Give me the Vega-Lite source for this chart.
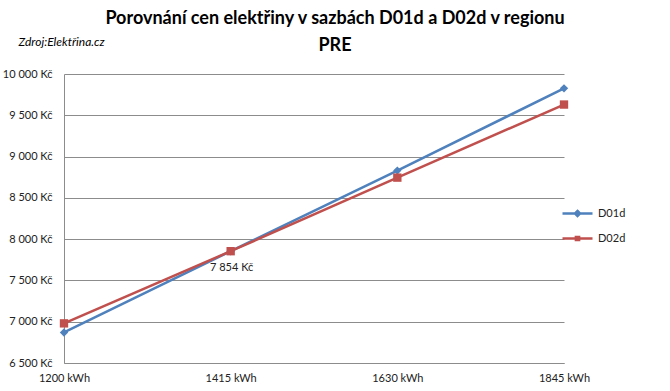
{
  "$schema": "https://vega.github.io/schema/vega-lite/v6.json",
  "width": 500,
  "height": 289,
  "autosize": {"type": "none"},
  "padding": {"left": 64, "top": 74, "right": 106, "bottom": 28},
  "background": "white",
  "config": {
    "font": "Lato",
    "view": {"stroke": null},
    "axis": {"labelFont": "Lato", "labelColor": "#222", "labelFontSize": 11, "ticks": false, "domainColor": "#8c8c8c", "gridColor": "#8c8c8c"}
  },
  "title": {
    "text": ["Porovnání cen elektřiny v sazbách D01d a D02d v regionu", "PRE"],
    "font": "Lato",
    "fontSize": 18,
    "fontWeight": "bold",
    "color": "#000",
    "lineHeight": 27,
    "anchor": "middle",
    "dx": 21,
    "dy": 24,
    "offset": 4
  },
  "data": {
    "values": [
      {"kwh": "1200 kWh", "series": "D01d", "price": 6870},
      {"kwh": "1415 kWh", "series": "D01d", "price": 7854},
      {"kwh": "1630 kWh", "series": "D01d", "price": 8830},
      {"kwh": "1845 kWh", "series": "D01d", "price": 9826},
      {"kwh": "1200 kWh", "series": "D02d", "price": 6980},
      {"kwh": "1415 kWh", "series": "D02d", "price": 7854},
      {"kwh": "1630 kWh", "series": "D02d", "price": 8745},
      {"kwh": "1845 kWh", "series": "D02d", "price": 9630}
    ]
  },
  "encoding": {
    "x": {
      "field": "kwh", "type": "nominal", "sort": null,
      "scale": {"type": "point", "padding": 0},
      "axis": {"title": null, "labelAngle": 0, "labelPadding": 9, "grid": false, "domain": true}
    },
    "y": {
      "field": "price", "type": "quantitative",
      "scale": {"domain": [6500, 10000], "nice": false, "zero": false},
      "axis": {
        "values": [6500, 7000, 7500, 8000, 8500, 9000, 9500, 10000],
        "labelExpr": "replace(format(datum.value, ','), ',', ' ') + ' Kč'",
        "labelPadding": 12,
        "grid": true,
        "domain": true,
        "title": "Zdroj:Elektřina.cz",
        "titleAngle": 0,
        "titleAlign": "left",
        "titleBaseline": "alphabetic",
        "titleX": -46,
        "titleY": -29,
        "titleFont": "Lato",
        "titleFontStyle": "italic",
        "titleFontWeight": "normal",
        "titleFontSize": 12,
        "titleColor": "#000"
      }
    }
  },
  "layer": [
    {
      "mark": {"type": "line", "strokeWidth": 2.5},
      "encoding": {
        "color": {
          "field": "series", "type": "nominal",
          "scale": {"domain": ["D01d", "D02d"], "range": ["#4F81BD", "#C0504D"]},
          "legend": {
            "title": null,
            "orient": "none",
            "legendX": 507,
            "legendY": 133,
            "symbolSize": 100,
            "symbolStrokeWidth": 2.5,
            "labelOffset": 14,
            "labelFontSize": 11,
            "labelFont": "Lato",
            "labelColor": "#222",
            "rowPadding": 10,
            "encode": {
              "symbols": {
                "update": {
                  "shape": {"signal": "datum.value == 'D01d' ? 'M-3,0L3,0M0,-0.5L0.5,0L0,0.5L-0.5,0Z' : 'M-3,0L3,0M-0.32,-0.32L0.32,-0.32L0.32,0.32L-0.32,0.32Z'"},
                  "fill": {"signal": "datum.value == 'D01d' ? '#4F81BD' : '#C0504D'"},
                  "stroke": {"signal": "datum.value == 'D01d' ? '#4F81BD' : '#C0504D'"},
                  "strokeWidth": {"value": 2.5},
                  "size": {"value": 100}
                }
              }
            }
          }
        }
      }
    },
    {
      "mark": {"type": "point", "filled": true, "opacity": 1, "size": 70},
      "encoding": {
        "color": {"field": "series", "type": "nominal", "legend": null},
        "shape": {"condition": {"test": "datum.series == 'D01d'", "value": "diamond"}, "value": "square"}
      }
    },
    {
      "data": {"values": [{"kwh": "1415 kWh", "price": 7854, "label": "7 854 Kč"}]},
      "mark": {"type": "text", "dy": 17, "dx": 1, "fontSize": 11, "font": "Lato", "color": "#222"},
      "encoding": {"text": {"field": "label"}}
    }
  ]
}
